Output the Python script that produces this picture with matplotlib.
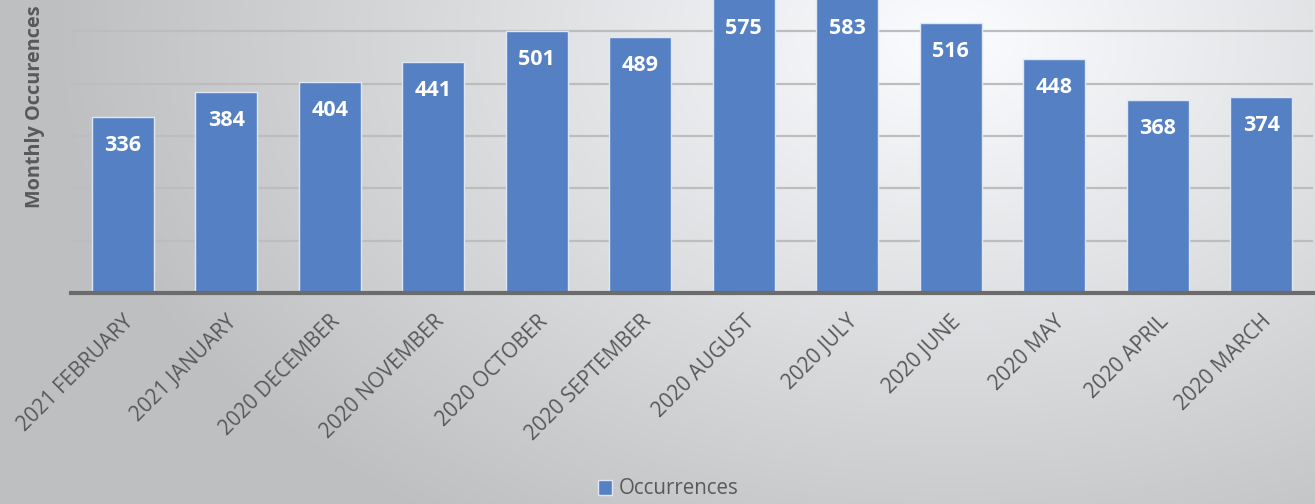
import numpy as np
import matplotlib
matplotlib.use("Agg")
import matplotlib.pyplot as plt

months = ["2021 FEBRUARY", "2021 JANUARY", "2020 DECEMBER", "2020 NOVEMBER",
          "2020 OCTOBER", "2020 SEPTEMBER", "2020 AUGUST", "2020 JULY",
          "2020 JUNE", "2020 MAY", "2020 APRIL", "2020 MARCH"]
occurrences = [336, 384, 404, 441, 501, 489, 575, 583, 516, 448, 368, 374]
grid_levels = [100, 200, 300, 400, 500]

BAR = "#5580C4"
TXT = "#595959"
plt.rcParams["font.family"] = ["Open Sans", "DejaVu Sans"]

fig = plt.figure(figsize=(13.15, 5.04), dpi=100)

# radial gradient background (light top-centre, grey corners)
bg = fig.add_axes([0, 0, 1, 1], zorder=0)
yy, xx = np.mgrid[0:504, 0:1315]
r = np.hypot((xx - 950) / 1000, (yy - 40) / 650)
shade = np.clip(1.0 - 0.27 * r, 0.76, 1.0)
bg.imshow(np.dstack([shade * 0.985, shade * 0.99, shade, np.ones_like(shade)]),
          aspect="auto", extent=[0, 1, 0, 1])
bg.set_axis_off()

ax = fig.add_axes([71 / 1315, 1 - 293 / 504, 1242 / 1315, 293 / 504], zorder=1)
ax.patch.set_alpha(0)
x = np.arange(len(months))
for g in grid_levels:
    ax.axhline(g, color="#bdbdbd", lw=1.6, zorder=1)
bars = ax.bar(x, occurrences, width=0.6, color=BAR, edgecolor="#dfe7f5",
              linewidth=1.0, zorder=2, label="Occurrences")
ax.set_ylim(0, 560)
ax.set_xlim(-0.5, len(months) - 0.5)
for xi, v in zip(x, occurrences):
    ax.annotate(str(v), xy=(xi, min(v, 560)), xytext=(0, -20.5),
                textcoords="offset points", ha="center", va="center",
                color="white", fontsize=15.5, fontweight="bold", zorder=3,
                annotation_clip=False)
ax.spines[["top", "right", "left"]].set_visible(False)
ax.spines["bottom"].set_color("#6b6b6b")
ax.spines["bottom"].set_linewidth(3)
ax.spines["bottom"].set_zorder(4)
ax.set_yticks([])
ax.set_xticks(x)
ax.set_xticklabels(months, rotation=45, ha="right", rotation_mode="anchor",
                   fontsize=15, color=TXT)
ax.tick_params(axis="x", length=0, pad=13)

fig.text(35 / 1315, 1 - 107 / 504, "Monthly Occurences", rotation=90,
         ha="center", va="center", fontsize=14.3, fontweight="bold", color=TXT)

leg = fig.legend(handles=[bars], labels=["Occurrences"], loc="center",
                 bbox_to_anchor=(668 / 1315, 1 - 489 / 504), frameon=False,
                 fontsize=14.8, handlelength=0.7, handleheight=0.7,
                 handletextpad=0.3, labelcolor=TXT)

fig.savefig("out.png", dpi=100)
